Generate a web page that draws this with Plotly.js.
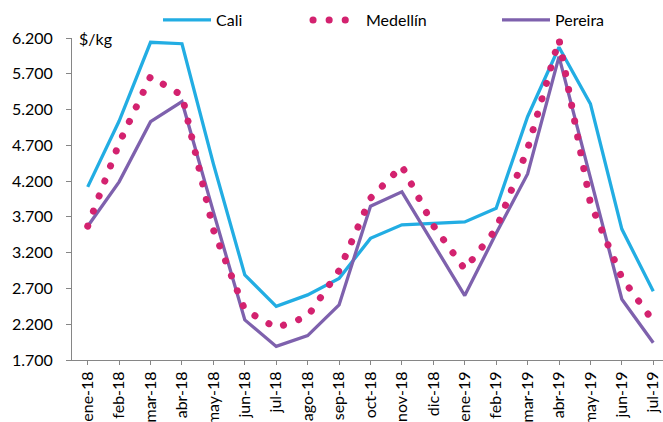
<!DOCTYPE html>
<html>
<head>
<meta charset="utf-8">
<script src="https://cdn.plot.ly/plotly-3.0.1.min.js"></script>
<style>
  html, body { margin: 0; padding: 0; background: #fff; }
  #chart { width: 663px; height: 422px; }
  path.js-line[style*="0.1px"] { stroke-linecap: round; }
</style>
</head>
<body>
<div id="chart"></div>
<script>
// Categories (months)
const months = ["ene-18","feb-18","mar-18","abr-18","may-18","jun-18","jul-18","ago-18","sep-18","oct-18","nov-18","dic-18","ene-19","feb-19","mar-19","abr-19","may-19","jun-19","jul-19"];

// Series values ($/kg)
const cali     = [4120, 5040, 6140, 6120, 4440, 2890, 2450, 2610, 2840, 3400, 3590, 3610, 3630, 3820, 5100, 6070, 5280, 3530, 2660];
const medellin = [3570, 4730, 5660, 5400, 3520, 2400, 2150, 2310, 2950, 3960, 4410, 3580, 2970, 3530, 4650, 6180, 3890, 2850, 2240];
const pereira  = [3570, 4190, 5030, 5310, 3770, 2260, 1890, 2040, 2470, 3850, 4050, 3330, 2600, 3470, 4300, 5940, 4260, 2550, 1940];

// Y tick values and labels
const yTickVals = [1700, 2200, 2700, 3200, 3700, 4200, 4700, 5200, 5700, 6200];
const yTickText = ["1.700","2.200","2.700","3.200","3.700","4.200","4.700","5.200","5.700","6.200"];

const FONT = "Lato, 'Open Sans', sans-serif";
const C_CALI = "#22ADE3";
const C_MED = "#D3226F";
const C_PER = "#7E61AD";

const xIdx = months.map((m, i) => i);

const traces = [
  { name: "Cali", x: xIdx, y: cali, type: "scatter", mode: "lines",
    line: { color: C_CALI, width: 3.3 }, legend: "legend" },
  { name: "Pereira", x: xIdx, y: pereira, type: "scatter", mode: "lines",
    line: { color: C_PER, width: 3.3 }, legend: "legend3" },
  { name: "Medellín", x: xIdx, y: medellin, type: "scatter", mode: "lines",
    line: { color: C_MED, width: 7, dash: "0.1px,16px" }, legend: "legend2" }
];

function leg(px) {
  return {
    xref: "container", yref: "container",
    x: px / 663, y: 1 - 20 / 422,
    xanchor: "left", yanchor: "middle",
    orientation: "h", bgcolor: "rgba(0,0,0,0)",
    font: { family: FONT, size: 16, color: "#000" },
    itemwidth: 48
  };
}

const layout = {
  width: 663, height: 422,
  margin: { l: 72, r: 0, t: 38, b: 62 },
  paper_bgcolor: "#fff", plot_bgcolor: "#fff",
  font: { family: FONT, size: 16, color: "#000" },
  showlegend: true,
  legend: leg(158),
  legend2: leg(308),
  legend3: leg(497),
  xaxis: {
    range: [-0.5, 18.31],
    tickmode: "array", tickvals: xIdx, ticktext: months,
    tickangle: -90,
    tickson: "boundaries",
    ticks: "outside", ticklen: 4, tickcolor: "#868686", tickwidth: 1,
    showline: true, linecolor: "#868686", linewidth: 1,
    showgrid: false, zeroline: false,
    tickfont: { family: FONT, size: 16, color: "#000" },
    fixedrange: true
  },
  yaxis: {
    range: [1700, 6200],
    tickmode: "array", tickvals: yTickVals, ticktext: yTickText,
    ticks: "outside", ticklen: 5, tickcolor: "#868686", tickwidth: 1,
    showline: true, linecolor: "#868686", linewidth: 1,
    showgrid: false, zeroline: false,
    ticklabelstandoff: 10,
    tickfont: { family: FONT, size: 16, color: "#000" },
    fixedrange: true
  },
  annotations: [{
    text: "$/kg", xref: "paper", yref: "paper",
    x: 5 / 591, y: 1, xanchor: "left", yanchor: "middle",
    showarrow: false, font: { family: FONT, size: 16, color: "#000" }
  }]
};

Plotly.newPlot("chart", traces, layout, { staticPlot: true, displayModeBar: false }).then(function (gd) {
  gd.querySelectorAll(".legendlines path.js-line").forEach(function (p) {
    p.setAttribute("d", "M5,0h48");
  });
  gd.querySelectorAll("path.js-line").forEach(function (p) {
    if ((p.style.strokeDasharray || "").indexOf("0.1") >= 0) {
      p.style.strokeLinecap = "round";
    }
  });
});
</script>
</body>
</html>
